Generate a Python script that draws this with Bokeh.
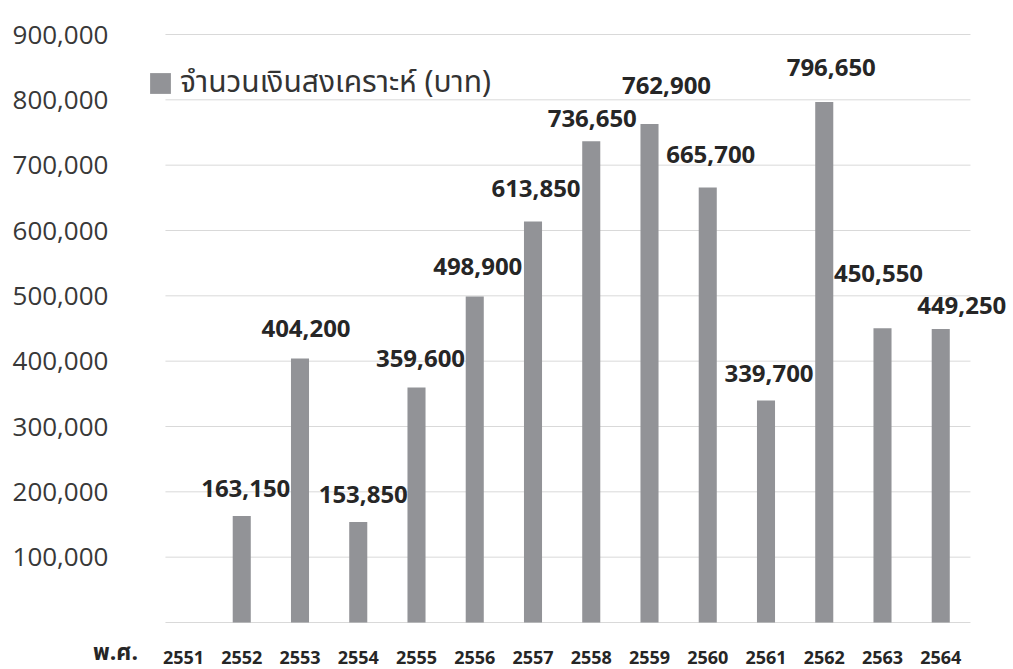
from bokeh.plotting import figure
from bokeh.models import ColumnDataSource, Legend, LegendItem, Range1d
from bokeh.core.properties import value
from bokeh.embed import file_html
from bokeh.resources import INLINE

# ---- data ----
years = ["2551", "2552", "2553", "2554", "2555", "2556", "2557",
         "2558", "2559", "2560", "2561", "2562", "2563", "2564"]
amounts = [0, 163150, 404200, 153850, 359600, 498900, 613850,
           736650, 762900, 665700, 339700, 796650, 450550, 449250]
series_name = "จำนวนเงินสงเคราะห์ (บาท)"
axis_title = "พ.ศ."
y_ticks = [100000, 200000, 300000, 400000, 500000, 600000, 700000, 800000, 900000]
grid_ticks = [0] + y_ticks

# label nudges in screen px (style only)
lbl_dx = [0, 4, 6, 5, 4, 3, 3, 1, 17, 3, 3, 7, -4, 21]
lbl_dy = [0, 27, 30, 27, 29, 30, 33, 23, 39, 33, 27, 35, 55, 23]

# ---- layout (pixels) ----
W, H = 1010, 668
PX0, PY0 = 183.0, 622.0          # pixel of category 0 / value 0
STEP = 58.25                     # px per category
YSCALE = 588.0 / 900000          # px per unit
X_LO, X_HI = -0.31, 13.51        # plot-area extent in category units

idx = list(range(len(years)))
src = ColumnDataSource(dict(x=idx, top=amounts))

lab_rows = [i for i in idx if amounts[i] > 0]
lab_src = ColumnDataSource(dict(
    x=lab_rows,
    y=[amounts[i] for i in lab_rows],
    txt=[f"{amounts[i]:,}" for i in lab_rows],
    dx=[lbl_dx[i] for i in lab_rows],
    dy=[-lbl_dy[i] for i in lab_rows],
))
yr_src = ColumnDataSource(dict(x=idx, y=[0] * len(idx), txt=years))
tick_src = ColumnDataSource(dict(x=[X_LO] * len(y_ticks), y=y_ticks,
                                 txt=[f"{t:,}" for t in y_ticks]))
grid_src = ColumnDataSource(dict(x0=[X_LO] * len(grid_ticks), x1=[X_HI] * len(grid_ticks),
                                 y=grid_ticks))

BAR = "#929397"
TXT = "#262626"

x_range = Range1d(-PX0 / STEP, (W - PX0) / STEP)
y_range = Range1d(-(H - PY0) / YSCALE, PY0 / YSCALE)

p = figure(width=W, height=H, output_backend="svg", toolbar_location=None,
           x_range=x_range, y_range=y_range,
           min_border_left=0, min_border_right=0, min_border_top=0, min_border_bottom=0)
p.outline_line_color = None
p.background_fill_color = "white"
p.border_fill_color = "white"
p.axis.visible = False
p.grid.visible = False

# gridlines
p.segment(x0="x0", x1="x1", y0="y", y1="y", source=grid_src, line_color="#d9d9d9", line_width=1)

# bars
r = p.vbar(x="x", top="top", width=0.31, source=src, fill_color=BAR, line_color=None)

# y tick labels
p.text(x="x", y="y", text="txt", source=tick_src, x_offset=-57,
       text_align="right", text_baseline="middle",
       text_font=value("Open Sans"), text_font_size="26px", text_color="#383838")

# category labels
p.text(x="x", y="y", text="txt", source=yr_src, y_offset=35,
       text_align="center", text_baseline="middle",
       text_font=value("Open Sans"), text_font_style=value("bold"),
       text_font_size="18px", text_color=TXT)

# axis title
p.text(x=[X_LO], y=[0], text=[axis_title], x_offset=-50, y_offset=30,
       text_align="center", text_baseline="middle",
       text_font=value("Noto Sans Thai, Tahoma, sans-serif"), text_font_style=value("bold"),
       text_font_size="23px", text_color=TXT)

# data labels
p.text(x="x", y="y", text="txt", source=lab_src, x_offset="dx", y_offset="dy",
       text_align="center", text_baseline="middle",
       text_font=value("Open Sans"), text_font_style=value("bold"),
       text_font_size="24px", text_color=TXT)

legend = Legend(items=[LegendItem(label=series_name, renderers=[r])],
                location=(147, 562), padding=0, margin=0, spacing=0,
                glyph_width=26, glyph_height=26, label_standoff=7,
                border_line_color=None, background_fill_alpha=0,
                label_text_font="Noto Sans Thai, Tahoma, sans-serif",
                label_text_font_size="30px", label_text_color="#333333")
p.add_layout(legend, "center")

open("out.html", "w").write(file_html(p, INLINE))
